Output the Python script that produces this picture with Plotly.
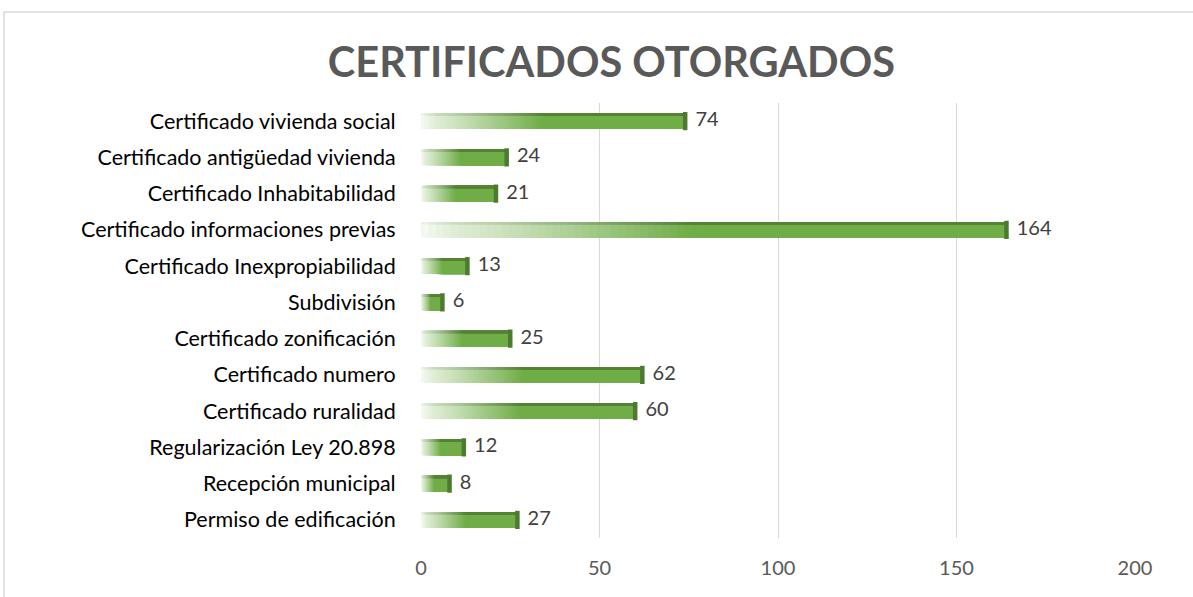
import plotly.graph_objects as go

categories = [
    "Certificado vivienda social",
    "Certificado antigüedad vivienda",
    "Certificado Inhabitabilidad",
    "Certificado informaciones previas",
    "Certificado Inexpropiabilidad",
    "Subdivisión",
    "Certificado zonificación",
    "Certificado numero",
    "Certificado ruralidad",
    "Regularización Ley 20.898",
    "Recepción municipal",
    "Permiso de edificación",
]
values = [74, 24, 21, 164, 13, 6, 25, 62, 60, 12, 8, 27]
x_ticks = [0, 50, 100, 150, 200]

W, H = 1193, 597
ML, MR, MT, MB = 421, 58, 103, 59

GREEN = (112, 173, 71)
DARK = (84, 130, 53)


def mix(c1, c2, t):
    return tuple(round(a + (b - a) * t) for a, b in zip(c1, c2))


def rgb(c):
    return "rgb(%d,%d,%d)" % c


def seg_color(f, base, light_start, light_mid):
    if f < 0.06:
        return mix(light_start, light_mid, f / 0.06)
    if f < 0.46:
        t = (f - 0.06) / 0.40
        return mix(light_mid, base, t ** 1.1)
    return base


fig = go.Figure()

N = 40
starts = [i / N * 0.5 for i in range(N)] + [0.5]
BW = 0.44
for f0 in starts:
    fm = f0 + 0.25 / N
    c_main = seg_color(fm, GREEN, (246, 250, 243), (222, 236, 212))
    # each segment spans from its start to the bar end; later ones paint over
    fig.add_trace(go.Bar(
        y=categories, x=[v * (1 - f0) for v in values],
        base=[v * f0 for v in values], orientation="h",
        width=BW, offset=-BW / 2,
        marker=dict(color=rgb(c_main), line=dict(width=0)),
        showlegend=False, hoverinfo="skip",
    ))
for f0 in starts:
    fm = f0 + 0.25 / N
    c_top = seg_color(fm, DARK, (236, 243, 231), (200, 220, 188))
    fig.add_trace(go.Bar(
        y=categories, x=[v * (1 - f0) for v in values],
        base=[v * f0 for v in values], orientation="h",
        width=0.07, offset=-BW / 2,
        marker=dict(color=rgb(c_top), line=dict(width=0)),
        showlegend=False, hoverinfo="skip",
    ))

# right end face
fig.add_trace(go.Scatter(
    y=categories, x=values, mode="markers",
    marker=dict(symbol="line-ns", size=13, line=dict(width=4.5, color="rgb(78,122,48)")),
    showlegend=False, hoverinfo="skip",
))

# data labels
fig.add_trace(go.Scatter(
    y=categories, x=values, mode="text",
    text=["  " + str(v) for v in values], textposition="middle right",
    textfont=dict(family="Lato", size=20, color="#404040"),
    showlegend=False, hoverinfo="skip",
))

fig.update_layout(
    width=W, height=H,
    margin=dict(l=ML, r=MR, t=MT, b=MB),
    paper_bgcolor="white", plot_bgcolor="white",
    barmode="overlay",
    title=dict(text="<b>CERTIFICADOS OTORGADOS</b>", x=0.5125, xanchor="center",
               y=1 - 62 / H, yanchor="middle",
               font=dict(family="Lato", size=41.5, color="#595959")),
    xaxis=dict(range=[0, 200], tickvals=x_ticks, showgrid=True, gridcolor="#d9d9d9",
               gridwidth=1, zeroline=False, showline=False,
               ticks="outside", ticklen=12, tickcolor="rgba(0,0,0,0)",
               tickfont=dict(family="Lato", size=20, color="#595959")),
    yaxis=dict(range=[len(categories) - 0.5, -0.5], showgrid=False, showline=False,
               zeroline=False, ticks="outside", ticklen=20, tickcolor="rgba(0,0,0,0)",
               tickfont=dict(family="Lato", size=21.5, color="#000000")),
    shapes=[dict(type="rect", xref="paper", yref="paper",
                 x0=(4 - ML) / (W - ML - MR), x1=(W + 10 - ML) / (W - ML - MR),
                 y0=-(MB + 10) / (H - MT - MB), y1=(H - MB - 12) / (H - MT - MB),
                 line=dict(color="#d9d9d9", width=1.5), fillcolor="rgba(0,0,0,0)",
                 layer="below")],
)

fig.write_html("out.html", config={"displayModeBar": False},
               post_script="document.body.style.margin='0';")
